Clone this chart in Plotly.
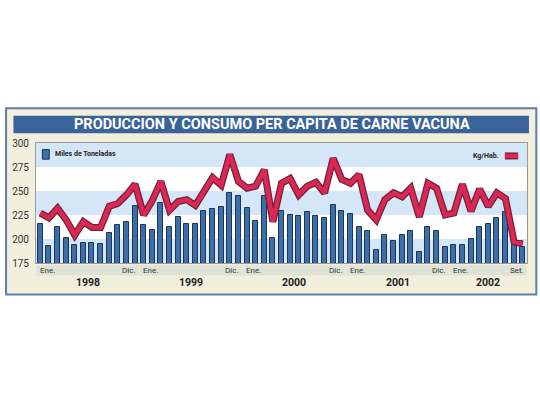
import plotly.graph_objects as go

# ---------------- data ----------------
years = ["1998", "1999", "2000", "2001", "2002"]
months_per_year = [12, 12, 12, 12, 9]

produccion = [
    216, 193, 212, 201, 194, 196, 196, 195, 206, 215, 218, 234,
    215, 209, 237, 212, 223, 216, 216, 229, 231, 233, 248, 245,
    232, 219, 245, 201, 229, 225, 224, 228, 224, 222, 235, 229,
    226, 212, 208, 189, 204, 198, 204, 208, 186, 213, 208, 192,
    194, 194, 200, 213, 216, 222, 228, 200, 192,
]
consumo = [
    227, 222, 232, 220, 204, 218, 212, 212, 234, 237, 246, 257,
    225, 240, 260, 230, 239, 241, 235, 250, 264, 256, 288, 260,
    253, 255, 272, 218, 258, 263, 246, 255, 259, 248, 284, 262,
    258, 267, 230, 220, 241, 248, 244, 253, 223, 258, 253, 225,
    227, 257, 229, 252, 234, 248, 242, 197, 195,
]
y_ticks = [175, 200, 225, 250, 275, 300]
title_text = "PRODUCCION Y CONSUMO PER CAPITA DE CARNE VACUNA"
legend_bar = "Miles de Toneladas"
legend_line = "Kg/Hab."

x = list(range(len(produccion)))

BEIGE = "#f2efdc"
BAND = "#d5e6f8"
NAVY = "#3a6399"
BAR = "#3d6ea6"
RED = "#dc2756"

fig = go.Figure()

fig.add_trace(go.Bar(
    x=x, y=produccion, width=0.58,
    marker=dict(color=BAR, line=dict(color="#1b3458", width=1)),
    showlegend=False, hoverinfo="skip",
))
fig.add_trace(go.Scatter(
    x=x, y=consumo, mode="lines",
    line=dict(color="#6e2436", width=7, shape="linear"),
    showlegend=False, hoverinfo="skip",
))
fig.add_trace(go.Scatter(
    x=x, y=consumo, mode="lines",
    line=dict(color=RED, width=4.5),
    showlegend=False, hoverinfo="skip",
))

shapes = []
annotations = []

# outer beige panel
shapes.append(dict(type="rect", xref="paper", yref="paper",
                   x0=-0.061, x1=1.019, y0=-0.262, y1=1.29,
                   fillcolor=BEIGE, line=dict(color="#5a80ad", width=2),
                   layer="below"))
# white plot area
shapes.append(dict(type="rect", xref="paper", yref="paper",
                   x0=0, x1=1, y0=0, y1=1,
                   fillcolor="white", line=dict(width=0), layer="below"))
# title bar
shapes.append(dict(type="rect", xref="paper", yref="paper",
                   x0=-0.046, x1=1.004, y0=1.082, y1=1.228,
                   fillcolor=NAVY, line=dict(width=0), layer="below"))
annotations.append(dict(text="<b>" + title_text + "</b>", xref="paper", yref="paper",
                        x=0.48, y=1.155, showarrow=False,
                        font=dict(family="Roboto", size=14.5, color="white"),
                        xanchor="center", yanchor="middle"))

# plot background bands
for lo in [175, 225, 275]:
    shapes.append(dict(type="rect", xref="paper", yref="y",
                       x0=0, x1=1, y0=lo, y1=lo + 25,
                       fillcolor=BAND, line=dict(width=0), layer="below"))

# year bands + month labels + year labels
start = 0
month_names_end = {12: "Dic.", 9: "Set."}
for yr, n in zip(years, months_per_year):
    end = start + n - 1
    shapes.append(dict(type="rect", xref="x", yref="paper",
                       x0=start - 0.45, x1=end + 0.45, y0=-0.105, y1=-0.018,
                       fillcolor="#dfe3d5", line=dict(width=0), layer="below"))
    annotations.append(dict(text="Ene.", xref="x", yref="paper", x=start - 0.3, y=-0.062,
                            showarrow=False, xanchor="left", yanchor="middle",
                            font=dict(family="Roboto", size=8, color="#333")))
    annotations.append(dict(text=month_names_end[n], xref="x", yref="paper", x=end + 0.35, y=-0.062,
                            showarrow=False, xanchor="right", yanchor="middle",
                            font=dict(family="Roboto", size=8, color="#333")))
    annotations.append(dict(text="<b>" + yr + "</b>", xref="x", yref="paper", x=(start + end) / 2, y=-0.16,
                            showarrow=False, xanchor="center", yanchor="middle",
                            font=dict(family="Roboto", size=10.5, color="#222")))
    start = end + 1

# legends
shapes.append(dict(type="rect", xref="paper", yref="paper",
                   x0=0.013, x1=0.027, y0=0.865, y1=0.945,
                   fillcolor=BAR, line=dict(color="#1b3458", width=1)))
annotations.append(dict(text="<b>" + legend_bar + "</b>", xref="paper", yref="paper",
                        x=0.035, y=0.905, showarrow=False, xanchor="left", yanchor="middle",
                        font=dict(family="Roboto", size=7, color="#222")))
shapes.append(dict(type="line", xref="paper", yref="paper",
                   x0=0.955, x1=0.982, y0=0.892, y1=0.892,
                   line=dict(color="#6e2436", width=7)))
shapes.append(dict(type="line", xref="paper", yref="paper",
                   x0=0.955, x1=0.982, y0=0.892, y1=0.892,
                   line=dict(color=RED, width=4.5)))
annotations.append(dict(text="<b>" + legend_line + "</b>", xref="paper", yref="paper",
                        x=0.947, y=0.892, showarrow=False, xanchor="right", yanchor="middle",
                        font=dict(family="Roboto", size=7, color="#222")))

fig.update_layout(
    width=540, height=405,
    margin=dict(l=32, r=12, t=143, b=142),
    paper_bgcolor="white",
    plot_bgcolor="white",
    shapes=shapes,
    annotations=annotations,
    bargap=0,
    xaxis=dict(range=[-0.5, len(x) - 0.5], showticklabels=False, showgrid=False,
               zeroline=False, showline=True, linecolor="#9a9a9a", linewidth=1, mirror=True),
    yaxis=dict(range=[175, 300], tickvals=y_ticks, showgrid=False, zeroline=False,
               showline=True, linecolor="#9a9a9a", linewidth=1, mirror=True,
               ticks="", tickfont=dict(family="Roboto", size=10, color="#333"),
               ticklabelstandoff=4),
)

fig.write_html("out.html")
